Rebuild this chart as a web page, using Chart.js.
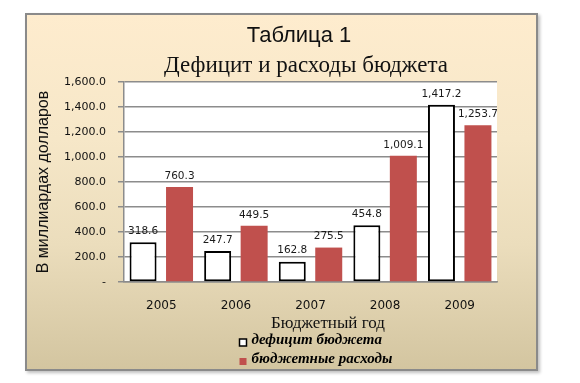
<!DOCTYPE html>
<html>
<head>
<meta charset="utf-8">
<script src="https://cdn.jsdelivr.net/npm/chart.js@4.4.1/dist/chart.umd.min.js"></script>
<style>
  html, body { margin: 0; padding: 0; background: #ffffff; }
  body { width: 580px; height: 383px; position: relative; overflow: hidden; }
  #frame {
    position: absolute; left: 25px; top: 13px; width: 513px; height: 358px;
    box-sizing: border-box; border: 2px solid #8a8a8a;
    background: linear-gradient(to bottom, #feecce 0%, #f6e7c8 35%, #ebddbc 65%, #d3c5a0 100%);
    box-shadow: 2px 2px 3px rgba(0,0,0,0.25);
  }
  #c { position: absolute; left: 0; top: 0; }
</style>
</head>
<body>
<div id="frame"></div>
<canvas id="c" width="580" height="383"></canvas>
<script>
const titleText = 'Таблица 1';
const subtitleText = 'Дефицит и расходы бюджета';
const xAxisTitle = 'Бюджетный год';
const yAxisTitle = 'В миллиардах долларов';
const categories = ['2005', '2006', '2007', '2008', '2009'];
const seriesNames = ['дефицит бюджета', 'бюджетные расходы'];
const deficit = [318.6, 247.7, 162.8, 454.8, 1417.2];
const spending = [760.3, 449.5, 275.5, 1009.1, 1253.7];
const yTickValues = [0, 200, 400, 600, 800, 1000, 1200, 1400, 1600];

const fmt = v => v.toLocaleString('en-US', {minimumFractionDigits: 1, maximumFractionDigits: 1});

const plotBg = {
  id: 'plotBg',
  beforeDraw(chart) {
    const {ctx, chartArea: a} = chart;
    ctx.save();
    ctx.fillStyle = '#ffffff';
    ctx.fillRect(a.left, a.top, a.right - a.left, a.bottom - a.top);
    ctx.restore();
  }
};

const dataLabels = {
  id: 'dataLabels',
  afterDatasetsDraw(chart) {
    const {ctx} = chart;
    ctx.save();
    ctx.font = '10.5px "DejaVu Sans"';
    ctx.fillStyle = '#1a1a1a';
    ctx.textAlign = 'center';
    ctx.textBaseline = 'middle';
    chart.data.datasets.forEach((ds, di) => {
      chart.getDatasetMeta(di).data.forEach((el, i) => {
        ctx.fillText(fmt(ds.data[i]), el.x, el.y - 11);
      });
    });
    ctx.restore();
  }
};

const texts = {
  id: 'texts',
  afterDraw(chart) {
    const {ctx} = chart;
    ctx.save();
    ctx.fillStyle = '#111111';
    ctx.textAlign = 'center';
    ctx.textBaseline = 'alphabetic';
    ctx.font = '22px "Liberation Sans"';
    ctx.fillText(titleText, 299, 42);
    ctx.font = '23px "Liberation Serif"';
    ctx.fillText(subtitleText, 306, 72);
    ctx.font = '17px "Liberation Serif"';
    ctx.fillText(xAxisTitle, 328, 328);
    // legend
    ctx.textAlign = 'left';
    ctx.font = 'italic bold 15px "Liberation Serif"';
    const rows = [343.5, 362.5];
    chart.data.datasets.forEach((ds, di) => {
      const y = rows[di];
      ctx.fillStyle = ds.backgroundColor;
      ctx.fillRect(239.5, y - 4.5, 7, 7);
      if (ds.borderWidth) {
        ctx.lineWidth = 1.5;
        ctx.strokeStyle = ds.borderColor;
        ctx.strokeRect(239.5, y - 4.5, 7, 7);
      }
      ctx.fillStyle = '#000000';
      ctx.fillText(ds.label, 251.5, y);
    });
    ctx.restore();
  }
};

new Chart(document.getElementById('c'), {
  type: 'bar',
  data: {
    labels: categories,
    datasets: [
      { label: seriesNames[0], data: deficit, backgroundColor: '#ffffff', borderColor: '#000000', borderWidth: 2, borderSkipped: false,
        categoryPercentage: 0.978, barPercentage: 0.74 },
      { label: seriesNames[1], data: spending, backgroundColor: '#c0504d', borderWidth: 0,
        categoryPercentage: 0.978, barPercentage: 0.74 }
    ]
  },
  options: {
    responsive: false,
    animation: false,
    events: [],
    devicePixelRatio: 1,
    layout: { padding: { left: 34, right: 83, top: 82, bottom: 0 } },
    plugins: { legend: { display: false }, title: { display: false }, tooltip: { enabled: false } },
    scales: {
      x: {
        grid: { display: false, drawTicks: false },
        border: { display: true, color: '#8c8c8c', width: 1.5 },
        ticks: { color: '#111111', font: { family: 'DejaVu Sans', size: 12 }, padding: 17 },
        afterFit(scale) { scale.height = 101; }
      },
      y: {
        min: 0, max: 1600,
        afterBuildTicks(scale) { scale.ticks = yTickValues.map(v => ({value: v})); },
        grid: { color: '#8c8c8c', lineWidth: 1.5, tickLength: 6, drawTicks: true },
        border: { display: true, color: '#8c8c8c', width: 1.5 },
        ticks: { color: '#111111', font: { family: 'DejaVu Sans', size: 11 }, padding: 12,
                 callback: v => v === 0 ? '-' : fmt(v) },
        title: { display: true, text: yAxisTitle, color: '#111111', font: { family: 'Liberation Sans', size: 16 },
                 padding: { top: 0, bottom: 9 } },
        afterFit(scale) { scale.width = 90; }
      }
    }
  },
  plugins: [plotBg, dataLabels, texts]
});
</script>
</body>
</html>
